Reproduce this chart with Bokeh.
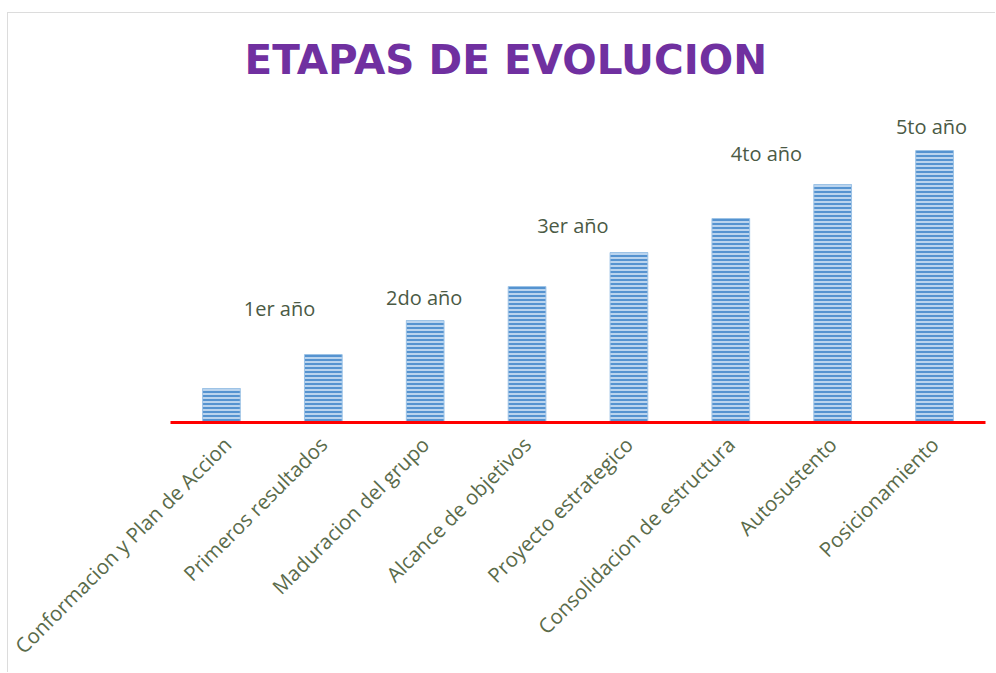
import math
from bokeh.plotting import figure
from bokeh.models import ColumnDataSource, Range1d, FactorRange, Title
from bokeh.core.properties import value
from bokeh.embed import file_html
from bokeh.resources import INLINE

# ---- data ----
categories = [
    "Conformacion y Plan de Accion",
    "Primeros resultados",
    "Maduracion del grupo",
    "Alcance de objetivos",
    "Proyecto estrategico",
    "Consolidacion de estructura",
    "Autosustento",
    "Posicionamiento",
]
values = [1, 2, 3, 4, 5, 6, 7, 8]

year_labels = ["1er año", "2do año", "3er año", "4to año", "5to año"]
# annotation anchor positions (category units along x, value units along y)
year_label_x = [1.07, 2.49, 3.95, 5.85, 7.47]
year_label_y = [3.35, 3.68, 5.79, 7.91, 8.71]

title_text = "ETAPAS DE EVOLUCION"

# ---- figure ----
W, H = 988, 660
p = figure(
    width=W, height=H,
    x_range=FactorRange(factors=categories, range_padding=0),
    y_range=Range1d(0, 9.5),
    output_backend="svg", toolbar_location=None,
    min_border_left=162, min_border_right=11,
    min_border_top=86, min_border_bottom=251,
)
p.styles = {
    "border-left": "1px solid #dcdcdc",
    "border-top": "1px solid #dcdcdc",
    "margin-left": "7px",
    "margin-top": "12px",
}

p.title = Title(
    text=title_text, align="left", offset=74,
    text_font="DejaVu Sans", text_font_size="40.5px", text_font_style="bold",
    text_color="#7030A0", vertical_align="bottom", standoff=31,
)

src = ColumnDataSource(dict(cat=categories, val=values))
p.vbar(
    x="cat", top="val", width=0.37, source=src,
    fill_color="#bad4ee", line_color="#9dc3e6", line_width=1,
    hatch_pattern="horizontal_line", hatch_color="#5593d0",
    hatch_scale=4, hatch_weight=2,
)

lab = ColumnDataSource(dict(x=year_label_x, y=year_label_y, t=year_labels))
p.text(
    x="x", y="y", text="t", source=lab,
    text_font=value("Open Sans"), text_font_size="20px",
    text_color="#4b5a45", text_align="center", text_baseline="middle",
)

p.yaxis.visible = False
p.xgrid.visible = False
p.ygrid.visible = False
p.outline_line_color = None

xa = p.xaxis[0]
xa.axis_line_color = "#ff0000"
xa.axis_line_width = 3
xa.major_tick_line_color = None
xa.minor_tick_line_color = None
xa.major_label_orientation = math.pi / 4
xa.major_label_text_font = "Open Sans"
xa.major_label_text_font_size = "20.5px"
xa.major_label_text_color = "#5a6b4a"
xa.major_label_standoff = 12

open("out.html", "w").write(file_html(p, INLINE))
